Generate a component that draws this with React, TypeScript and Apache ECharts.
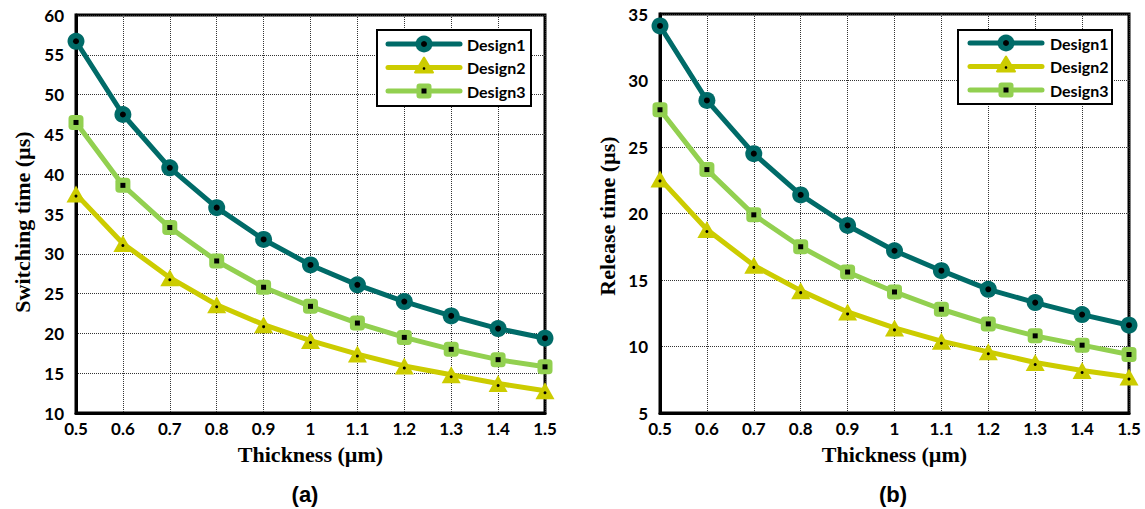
import React, { useEffect, useRef } from "react";
import * as echarts from "echarts";

const thickness = ["0.5", "0.6", "0.7", "0.8", "0.9", "1", "1.1", "1.2", "1.3", "1.4", "1.5"];

const switchDesign1 = [56.7, 47.5, 40.8, 35.8, 31.8, 28.6, 26.1, 24.0, 22.2, 20.6, 19.4];
const switchDesign2 = [37.5, 31.3, 27.0, 23.6, 21.1, 19.1, 17.4, 15.9, 14.8, 13.7, 12.8];
const switchDesign3 = [46.5, 38.6, 33.3, 29.1, 25.8, 23.4, 21.3, 19.5, 18.0, 16.7, 15.8];

const releaseDesign1 = [34.1, 28.5, 24.5, 21.4, 19.1, 17.2, 15.7, 14.3, 13.3, 12.4, 11.6];
const releaseDesign2 = [22.6, 18.8, 16.1, 14.2, 12.6, 11.4, 10.4, 9.6, 8.8, 8.2, 7.7];
const releaseDesign3 = [27.8, 23.3, 19.9, 17.5, 15.6, 14.1, 12.8, 11.7, 10.8, 10.1, 9.4];

const seriesNames = ["Design1", "Design2", "Design3"];
const colors = ["#006B68", "#CCCC00", "#92D050"];
const symbols = ["circle", "triangle", "roundRect"];
const symbolSizes: any[] = [17, [19, 17], 15];
const dotSizes = [6, 3, 5];
const dotSymbols = ["circle", "circle", "rect"];

const tickFont = "Lato, 'Open Sans', sans-serif";
const serif = "'Liberation Serif', 'Times New Roman', serif";
const sans = "'Liberation Sans', Arial, sans-serif";

export default function App() {
  const ref = useRef<HTMLDivElement>(null);
  useEffect(() => {
    if (!ref.current) return;
    const chart = echarts.init(ref.current, undefined, { renderer: "svg" });
    const panels = [
      { data: [switchDesign1, switchDesign2, switchDesign3], min: 10, max: 60, name: "Switching time (µs)", nameX: 22, nameY: 222, caption: "(a)", capX: 305 },
      { data: [releaseDesign1, releaseDesign2, releaseDesign3], min: 5, max: 35, name: "Release time (µs)", nameX: 607, nameY: 216, caption: "(b)", capX: 893 },
    ];
    const grids = [
      { left: 76, top: 15, width: 469, height: 398 },
      { left: 660, top: 14, width: 469, height: 399 },
    ];
    const legends = [
      { x: 377, y: 30, w: 154, h: 76, lineX0: 388, lineX1: 460, textX: 467, rows: [44, 67.5, 91] },
      { x: 958, y: 30, w: 154, h: 74, lineX0: 970, lineX1: 1042, textX: 1050, rows: [43, 66.5, 90] },
    ];
    const xAxis = grids.map((_, i) => ({
      type: "category",
      gridIndex: i,
      data: thickness,
      boundaryGap: false,
      name: "Thickness (µm)",
      nameLocation: "middle",
      nameGap: 30,
      nameTextStyle: { fontFamily: serif, fontWeight: "bold", fontSize: 22, color: "#000" },
      axisLine: { lineStyle: { color: "#000", width: 3 } },
      axisTick: { show: false },
      axisLabel: { fontFamily: tickFont, fontWeight: "bold", fontSize: 17, color: "#000", margin: 7 },
      splitLine: { show: true, lineStyle: { type: "dotted", color: "#333", width: 1 } },
    }));
    const yAxis = panels.map((p, i) => ({
      type: "value",
      gridIndex: i,
      min: p.min,
      max: p.max,
      interval: 5,
      axisLine: { show: true, lineStyle: { color: "#000", width: 3 } },
      axisTick: { show: false },
      axisLabel: { fontFamily: tickFont, fontWeight: "bold", fontSize: 17, color: "#000", margin: 12 },
      splitLine: { show: true, lineStyle: { type: "dotted", color: "#333", width: 1 } },
    }));
    const series: any[] = [];
    panels.forEach((p, gi) => {
      p.data.forEach((vals, si) => {
        series.push({
          type: "line",
          name: seriesNames[si],
          xAxisIndex: gi,
          yAxisIndex: gi,
          data: vals,
          symbol: symbols[si],
          symbolSize: symbolSizes[si],
          color: colors[si],
          lineStyle: { width: 5, color: colors[si] },
          itemStyle: { color: colors[si] },
          z: 3 + (2 - si),
        });
      });
      p.data.forEach((vals, si) => {
        series.push({
          type: "line",
          name: "dot" + gi + si,
          xAxisIndex: gi,
          yAxisIndex: gi,
          data: vals,
          symbol: dotSymbols[si],
          symbolSize: dotSizes[si],
          symbolOffset: si === 1 ? [0, 2] : [0, 0],
          showAllSymbol: true,
          lineStyle: { opacity: 0, width: 0 },
          itemStyle: { color: "#000" },
          silent: true,
          z: 10,
        });
      });
    });

    const gfx: any[] = [];
    legends.forEach((lg) => {
      gfx.push({ type: "rect", z: 50, shape: { x: lg.x, y: lg.y, width: lg.w, height: lg.h }, style: { fill: "#fff", stroke: "#000", lineWidth: 2 } });
      const cx = (lg.lineX0 + lg.lineX1) / 2;
      lg.rows.forEach((cy, si) => {
        const c = colors[si];
        gfx.push({ type: "line", z: 51, shape: { x1: lg.lineX0, y1: cy, x2: lg.lineX1, y2: cy }, style: { stroke: c, lineWidth: 5, lineCap: "round" } });
        if (si === 0) {
          gfx.push({ type: "circle", z: 52, shape: { cx, cy, r: 8.5 }, style: { fill: c } });
          gfx.push({ type: "circle", z: 53, shape: { cx, cy, r: 3 }, style: { fill: "#000" } });
        } else if (si === 1) {
          gfx.push({ type: "polygon", z: 52, shape: { points: [[cx, cy - 10], [cx - 9, cy + 5], [cx + 9, cy + 5]] }, style: { fill: c, stroke: c, lineWidth: 2, lineJoin: "round" } });
          gfx.push({ type: "circle", z: 53, shape: { cx, cy: cy + 1, r: 1.3 }, style: { fill: "#000" } });
        } else {
          gfx.push({ type: "rect", z: 52, shape: { x: cx - 7.5, y: cy - 7.5, width: 15, height: 15, r: 3 }, style: { fill: c } });
          gfx.push({ type: "rect", z: 53, shape: { x: cx - 2.5, y: cy - 2.5, width: 5, height: 5 }, style: { fill: "#000" } });
        }
        gfx.push({ type: "text", z: 53, x: lg.textX, y: cy, style: { text: seriesNames[si], fontFamily: tickFont, fontWeight: "bold", fontSize: 16, fill: "#000", textVerticalAlign: "middle", textAlign: "left" } });
      });
    });
    panels.forEach((p) => {
      gfx.push({ type: "text", z: 60, x: p.nameX, y: p.nameY, rotation: Math.PI / 2, style: { text: p.name, fontFamily: serif, fontWeight: "bold", fontSize: 22, fill: "#000", textAlign: "center", textVerticalAlign: "middle" } });
      gfx.push({ type: "text", z: 60, x: p.capX, y: 494, style: { text: p.caption, fontFamily: sans, fontWeight: "bold", fontSize: 22, fill: "#000", textAlign: "center", textVerticalAlign: "middle" } });
    });

    chart.setOption({
      animation: false,
      backgroundColor: "#fff",
      grid: grids.map((g) => ({ ...g, show: true, borderColor: "#000", borderWidth: 3, backgroundColor: "transparent" })),
      xAxis,
      yAxis,
      series,
      graphic: gfx,
    });
    return () => chart.dispose();
  }, []);
  return <div ref={ref} style={{ position: "fixed", left: 0, top: 0, width: 1145, height: 509 }} />;
}
